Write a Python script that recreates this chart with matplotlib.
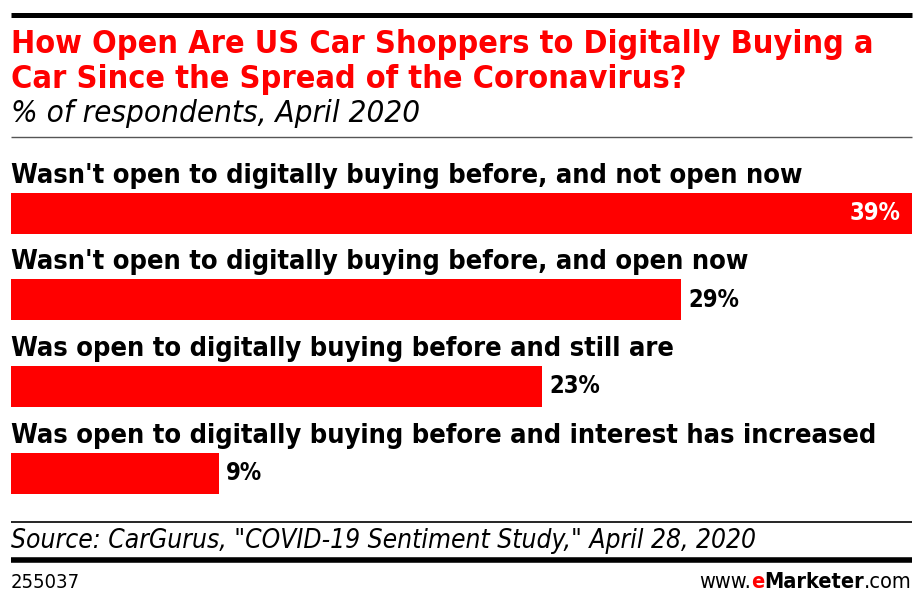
import matplotlib
matplotlib.use("Agg")
import matplotlib.pyplot as plt
from matplotlib.lines import Line2D

# data
categories = [
    "Wasn't open to digitally buying before, and not open now",
    "Wasn't open to digitally buying before, and open now",
    "Was open to digitally buying before and still are",
    "Was open to digitally buying before and interest has increased",
]
values = [39, 29, 23, 9]
value_labels = ["39%", "29%", "23%", "9%"]

title = "How Open Are US Car Shoppers to Digitally Buying a\nCar Since the Spread of the Coronavirus?"
subtitle = "% of respondents, April 2020"
source = 'Source: CarGurus, "COVID-19 Sentiment Study," April 28, 2020'
chart_id = "255037"

RED = "#ff0000"
FAM = ["DejaVu Sans"]
ST = "condensed"

W, H = 922, 603
fig = plt.figure(figsize=(W / 100, H / 100), dpi=100)


def fx(px):
    return px / W


def fy(py):
    return 1 - py / H


def hline(y, x0, x1, lw, color="black"):
    fig.add_artist(Line2D([fx(x0), fx(x1)], [fy(y), fy(y)], lw=lw, color=color,
                          transform=fig.transFigure, solid_capstyle="butt"))


# header
hline(14.5, 11, 912, 3.6)
fig.text(fx(11), fy(53), title.split("\n")[0], color=RED, fontsize=23.2,
         fontweight="bold", family=FAM, stretch=ST, va="baseline")
fig.text(fx(11), fy(88), title.split("\n")[1], color=RED, fontsize=23.2,
         fontweight="bold", family=FAM, stretch=ST, va="baseline")
fig.text(fx(11), fy(122), subtitle, color="black", fontsize=22.5,
         style="italic", family=FAM, stretch=ST, va="baseline")
hline(137, 11, 912, 1.0, "#555555")

# bars
pitch = 86.7
top = 213 - pitch / 2
ax = fig.add_axes([fx(11), fy(top + 4 * pitch), fx(901), 4 * pitch / H])
ypos = list(range(len(values)))
ax.barh(ypos, values, height=41 / pitch, color=RED, left=0)
ax.set_xlim(0, 39)
ax.set_ylim(3.5, -0.5)
ax.axis("off")

for i, (cat, v, lab) in enumerate(zip(categories, values, value_labels)):
    ax.text(0, i - 0.35, cat, fontsize=19.5, fontweight="bold", family=FAM,
            stretch=ST, va="baseline", ha="left")
    if i == 0:
        ax.text(v - 0.5, i, lab, fontsize=17, fontweight="bold", family=FAM,
                stretch=ST, color="white", va="center", ha="right")
    else:
        ax.text(v + 0.3, i, lab, fontsize=17, fontweight="bold", family=FAM,
                stretch=ST, color="black", va="center", ha="left")

# footer
hline(521.5, 11, 912, 1.2)
fig.text(fx(11), fy(548), source, fontsize=18.9, style="italic", family=FAM,
         stretch=ST, va="baseline")
hline(560, 11, 912, 4.0)
fig.text(fx(11), fy(588), chart_id, fontsize=14.5, family=FAM, stretch=ST,
         va="baseline")

# www.eMarketer.com, assembled right to left
renderer = fig.canvas.get_renderer()
x = 912
for txt, kw in [(".com", {}), ("Marketer", {"fontweight": "bold"}),
                ("e", {"fontweight": "bold", "color": RED}), ("www.", {})]:
    t = fig.text(fx(x), fy(588), txt, fontsize=15.6, family=FAM, stretch=ST,
                 va="baseline", ha="right", **kw)
    bb = t.get_window_extent(renderer)
    x -= bb.width

fig.savefig("out.png", dpi=100)
